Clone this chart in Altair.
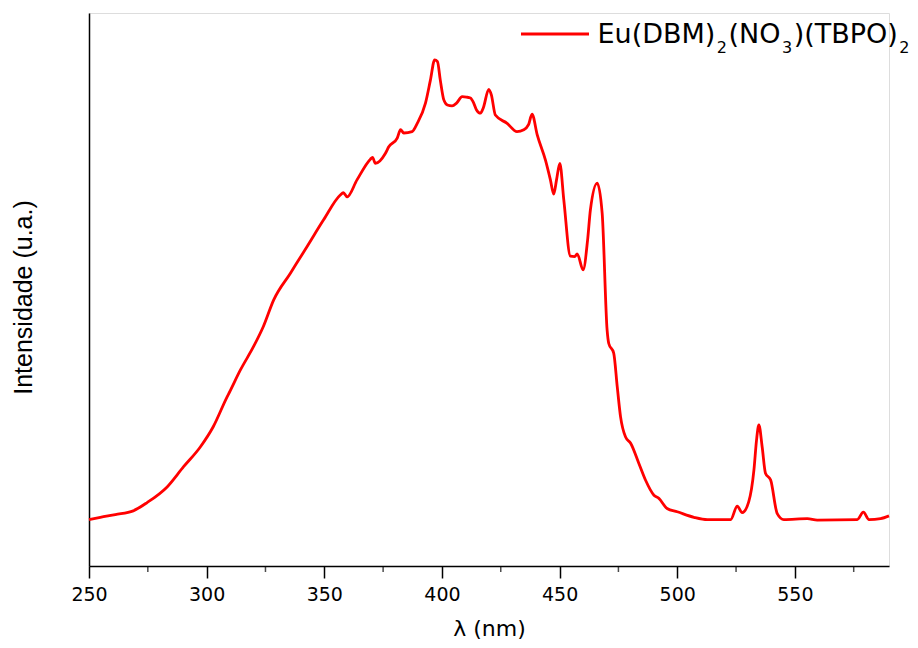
import altair as alt
import pandas as pd

# wavelength (nm)
wavelength = [250.0, 254.8, 261.2, 268.8, 274.7, 283.2, 290.2, 297.3, 302.8, 308.7,
              309.7, 314.3, 319.9, 324.1, 328.5, 335.6, 342.7, 349.7, 356.8, 358.1,
              359.7, 363.9, 369.6, 370.5, 371.7, 376.0, 377.4, 381.0, 382.4, 383.8,
              387.3, 389.5, 393.0, 395.1, 396.9, 398.1, 399.3, 400.8, 402.3, 404.3,
              406.2, 408.6, 410.4, 412.1, 413.5, 414.7, 416.4, 417.6, 419.9, 421.0,
              422.7, 427.7, 431.9, 434.8, 436.8, 438.3, 440.5, 444.0, 446.1, 447.5,
              448.7, 450.1, 451.8, 454.6, 456.4, 457.5, 460.0, 461.9, 463.1, 466.0,
              468.1, 470.2, 470.9, 473.0, 474.5, 475.9, 478.0, 480.2, 483.7, 486.5,
              490.1, 492.2, 495.7, 500.0, 507.1, 512.8, 522.7, 525.5, 527.6, 530.4,
              532.6, 533.7, 534.7, 536.1, 537.5, 539.7, 542.5, 545.3, 555.3, 559.5,
              576.5, 579.1, 581.5, 586.4, 590.0]

# intensity (arbitrary units, main peak = 100)
intensity = [0.0, 0.5, 1.1, 1.9, 3.7, 7.1, 11.5, 15.8, 20.2, 26.7,
             27.7, 32.5, 37.6, 42.0, 47.8, 53.6, 59.4, 65.2, 70.6, 71.1,
             70.2, 73.9, 78.4, 78.8, 77.5, 79.7, 81.1, 83.0, 84.8, 84.1,
             84.4, 86.2, 90.6, 95.6, 100.0, 99.6, 95.6, 91.3, 90.2, 90.0,
             90.6, 92.0, 91.9, 91.7, 90.6, 89.1, 88.4, 89.6, 93.6, 92.4,
             88.0, 86.2, 84.4, 84.8, 85.9, 88.2, 83.7, 78.2, 73.9, 70.8,
             73.9, 77.5, 69.5, 57.3, 57.2, 57.8, 54.3, 60.8, 67.4, 73.2,
             66.6, 41.2, 38.3, 36.2, 28.9, 22.4, 18.0, 16.6, 12.2, 8.6,
             5.3, 4.6, 2.4, 1.7, 0.5, 0.0, 0.0, 2.9, 1.5, 3.9,
             10.8, 17.3, 20.6, 15.8, 10.1, 8.6, 1.3, 0.0, 0.2, -0.1,
             0.0, 1.6, 0.0, 0.2, 0.8]

major_ticks = [250, 300, 350, 400, 450, 500, 550]
minor_ticks = [275, 325, 375, 425, 475, 525, 575]

# legend label pieces: (text, is_subscript)
legend_parts = [("Eu(DBM)", False), ("2", True), ("(NO", False), ("3", True),
                (")(TBPO)", False), ("2", True)]

RED = "#ff0000"
W, H = 800, 553
x_scale = alt.Scale(domain=[250, 590], nice=False, zero=False)
y_scale = alt.Scale(domain=[-10.1, 110.2], nice=False, zero=False)

x_axis = alt.Axis(title="λ (nm)", values=major_ticks, grid=False,
                  domainColor="black", domainWidth=1.5,
                  tickColor="black", tickWidth=1.5, tickSize=12,
                  labelFlush=False, labelOverlap=False,
                  labelFont="DejaVu Sans", labelFontSize=19, labelColor="black",
                  labelBaseline="alphabetic", labelPadding=22,
                  titleFont="DejaVu Sans", titleFontSize=22, titleColor="black",
                  titleFontWeight="normal", titleBaseline="alphabetic", titleY=69)

df = pd.DataFrame({"wl": wavelength, "I": intensity})

line = alt.Chart(df).mark_line(strokeWidth=2.8, interpolate="monotone", color=RED).encode(
    x=alt.X("wl:Q", scale=x_scale, axis=x_axis),
    y=alt.Y("I:Q", scale=y_scale,
            axis=alt.Axis(title="Intensidade (u.a.)", ticks=False, labels=False, grid=False,
                          domainColor="black", domainWidth=1.5,
                          titleFont="Liberation Sans", titleFontSize=25, titleColor="black",
                          titleFontWeight="normal", titlePadding=53, titleY=284)),
)

minor = alt.Chart(pd.DataFrame({"wl": minor_ticks})).mark_tick(
    color="black", thickness=1.5, size=6
).encode(
    x=alt.X("wl:Q", scale=x_scale, axis=x_axis),
    y=alt.value(H + 3),
)

legend_line = alt.Chart(pd.DataFrame({"k": [0]})).mark_rule(color=RED, strokeWidth=2.8).encode(
    x=alt.value(432), x2=alt.value(500), y=alt.value(21)
)

# approximate DejaVu Sans advance widths (em) used to lay the label pieces side by side
widths = {"E": .632, "u": .634, "(": .390, ")": .390, "D": .770, "B": .686, "M": .863,
          "N": .748, "O": .787, "T": .611, "P": .603, "2": .636, "3": .636}

layers = [line, minor, legend_line]
xpos = 508.5
for txt, sub in legend_parts:
    fs = 16 if sub else 27
    ypos = 40.3 if sub else 30.3
    layers.append(
        alt.Chart(pd.DataFrame({"t": [txt]})).mark_text(
            align="left", baseline="alphabetic", font="DejaVu Sans", fontSize=fs, color="black"
        ).encode(x=alt.value(xpos), y=alt.value(ypos), text="t:N")
    )
    xpos += sum(widths[c] for c in txt) * fs + 1.5

chart = alt.layer(*layers).properties(
    width=W, height=H,
    autosize=alt.AutoSizeParams(type="none"),
    padding={"left": 81, "top": 5, "right": 21, "bottom": 74},
).configure_view(stroke=None).configure(background="white")

chart.save("out.html", embed_options={"renderer": "svg", "actions": False})
